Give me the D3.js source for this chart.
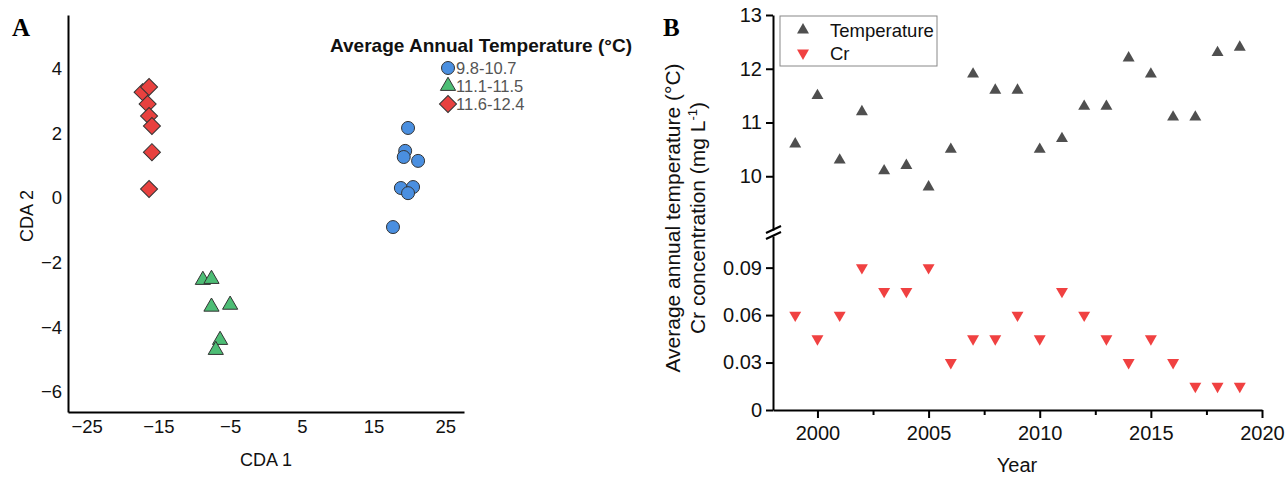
<!DOCTYPE html>
<html><head><meta charset="utf-8">
<script src="https://cdn.jsdelivr.net/npm/d3@7"></script>
<style>body{margin:0;background:#fff}svg{display:block}text{font-family:Arial,"Liberation Sans",sans-serif}</style>
</head><body><svg id="c" width="1286" height="478"></svg>
<script>
// ---- Panel A data (CDA scores) ----
const groupLabels = ["9.8-10.7", "11.1-11.5", "11.6-12.4"];
const blueX = [19.8, 19.4, 19.2, 21.2, 18.8, 20.5, 19.8, 17.7];
const blueY = [2.17, 1.46, 1.27, 1.15, 0.31, 0.34, 0.15, -0.9];
const greenX = [-8.8, -7.6, -7.6, -5.0, -6.4, -7.0];
const greenY = [-2.54, -2.51, -3.37, -3.31, -4.40, -4.71];
const redX = [-17.2, -16.3, -16.5, -16.3, -15.9, -15.9, -16.3];
const redY = [3.28, 3.44, 2.91, 2.54, 2.23, 1.42, 0.28];
const aXTicks = [-25, -15, -5, 5, 15, 25];
const aYTicks = [-6, -4, -2, 0, 2, 4];

// ---- Panel B data ----
const years = [1999,2000,2001,2002,2003,2004,2005,2006,2007,2008,2009,2010,2011,2012,2013,2014,2015,2016,2017,2018,2019];
const temperature = [10.6,11.5,10.3,11.2,10.1,10.2,9.8,10.5,11.9,11.6,11.6,10.5,10.7,11.3,11.3,12.2,11.9,11.1,11.1,12.3,12.4];
const cr = [0.06,0.045,0.06,0.09,0.075,0.075,0.09,0.03,0.045,0.045,0.06,0.045,0.075,0.06,0.045,0.03,0.045,0.03,0.015,0.015,0.015];
const bXTicks = [2000, 2005, 2010, 2015, 2020];
const bXMinor = [2002.5, 2007.5, 2012.5, 2017.5];
const tTicks = [10, 11, 12, 13];
const crTicks = [0, 0.03, 0.06, 0.09];

const FONT = 'Arial,"Liberation Sans",sans-serif';
const svg = d3.select("#c");

// ================= Panel A =================
const xA = d3.scaleLinear().domain([-27.6, 27.6]).range([68, 464]);
const yA = d3.scaleLinear().domain([-6.63, 5.67]).range([412, 15]);
const gA = svg.append("g");

const axA_y = gA.append("g").attr("transform", "translate(68,0)")
  .call(d3.axisLeft(yA).tickValues(aYTicks).tickSize(0).tickPadding(6).tickFormat(d3.format("d")));
const axA_x = gA.append("g").attr("transform", "translate(0,412)")
  .call(d3.axisBottom(xA).tickValues(aXTicks).tickSize(0).tickPadding(8).tickFormat(d3.format("d")));
[axA_y, axA_x].forEach(a => {
  a.select(".domain").attr("stroke", "#000").attr("stroke-width", 2);
  a.selectAll("text").attr("font-size", 18.5).attr("fill", "#111").attr("font-family", FONT);
});

gA.append("text").attr("transform", "translate(33,216) rotate(-90)").attr("text-anchor", "middle")
  .attr("font-size", 18).attr("fill", "#111").text("CDA 2");
gA.append("text").attr("x", 266).attr("y", 466).attr("text-anchor", "middle")
  .attr("font-size", 18).attr("fill", "#111").text("CDA 1");

const blue = "#4a8fe0", green = "#4dbd75", red = "#e8413f";
const triA = d3.symbol().type(d3.symbolTriangle).size(100)();
const sqA = d3.symbol().type(d3.symbolSquare).size(145)();

// red diamonds
gA.selectAll(".rd").data(redX.map((x, i) => [x, redY[i]])).join("path")
  .attr("d", sqA).attr("transform", d => `translate(${xA(d[0])},${yA(d[1])}) rotate(45)`)
  .attr("fill", red).attr("stroke", "#333").attr("stroke-width", 1);
// green triangles
gA.selectAll(".gt").data(greenX.map((x, i) => [x, greenY[i]])).join("path")
  .attr("d", triA).attr("transform", d => `translate(${xA(d[0])},${yA(d[1])})`)
  .attr("fill", green).attr("stroke", "#333").attr("stroke-width", 1);
// blue circles
gA.selectAll(".bc").data(blueX.map((x, i) => [x, blueY[i]])).join("circle")
  .attr("cx", d => xA(d[0])).attr("cy", d => yA(d[1])).attr("r", 6.5)
  .attr("fill", blue).attr("stroke", "#333").attr("stroke-width", 1);

// legend A
gA.append("text").attr("x", 330).attr("y", 52).attr("font-size", 19).attr("font-weight", "bold")
  .attr("fill", "#111").attr("textLength", 302).attr("lengthAdjust", "spacingAndGlyphs")
  .text("Average Annual Temperature (°C)");
const legA = gA.append("g");
legA.append("circle").attr("cx", 448).attr("cy", 68).attr("r", 6.5).attr("fill", blue).attr("stroke", "#333");
legA.append("path").attr("d", triA).attr("transform", "translate(448,86)").attr("fill", green).attr("stroke", "#333");
legA.append("path").attr("d", sqA).attr("transform", "translate(448,104) rotate(45)").attr("fill", red).attr("stroke", "#333");
groupLabels.forEach((t, i) => {
  legA.append("text").attr("x", 456).attr("y", [74, 92, 110][i]).attr("font-size", 16.5).attr("fill", "#555").text(t);
});

svg.append("text").attr("x", 12).attr("y", 36).attr("font-size", 25).attr("font-weight", "bold")
  .style("font-family", '"Liberation Serif","Times New Roman",serif').text("A");

// ================= Panel B =================
const xB = d3.scaleLinear().domain([1998, 2020]).range([773, 1262]);
const yT = d3.scaleLinear().domain([9, 13]).range([230, 15]);
const yC = d3.scaleLinear().domain([0, 0.11]).range([410, 236]);
const gB = svg.append("g");

const axT = gB.append("g").attr("transform", "translate(773,0)")
  .call(d3.axisLeft(yT).tickValues(tTicks).tickSizeInner(7).tickSizeOuter(0).tickPadding(4).tickFormat(d3.format("d")));
const axC = gB.append("g").attr("transform", "translate(773,0)")
  .call(d3.axisLeft(yC).tickValues(crTicks).tickSizeInner(7).tickSizeOuter(0).tickPadding(4).tickFormat(d => d === 0 ? "0" : d3.format(".2f")(d)));
const axX = gB.append("g").attr("transform", "translate(0,410)")
  .call(d3.axisBottom(xB).tickValues(bXTicks).tickSizeInner(8).tickSizeOuter(0).tickPadding(8).tickFormat(d3.format("d")));
const axXm = gB.append("g").attr("transform", "translate(0,410)")
  .call(d3.axisBottom(xB).tickValues(bXMinor).tickSizeInner(5).tickSizeOuter(0).tickFormat(""));
axXm.select(".domain").remove();
[axT, axC, axX, axXm].forEach(a => {
  a.select(".domain").attr("stroke", "#000").attr("stroke-width", 2);
  a.selectAll(".tick line").attr("stroke", "#000").attr("stroke-width", 2);
  a.selectAll("text").attr("font-size", 20).attr("fill", "#111").attr("font-family", FONT);
});

// axis break marks
[229.5, 235.5].forEach(y => {
  gB.append("line").attr("x1", 766).attr("y1", y + 3.5).attr("x2", 781).attr("y2", y - 3.5)
    .attr("stroke", "#000").attr("stroke-width", 2);
});

const triB = d3.symbol().type(d3.symbolTriangle).size(62)();
const tCol = "#4f4f4f", cCol = "#f04141";
gB.selectAll(".tp").data(years.map((y, i) => [y, temperature[i]])).join("path")
  .attr("d", triB).attr("transform", d => `translate(${xB(d[0])},${yT(d[1])})`).attr("fill", tCol);
gB.selectAll(".cp").data(years.map((y, i) => [y, cr[i]])).join("path")
  .attr("d", triB).attr("transform", d => `translate(${xB(d[0])},${yC(d[1])}) rotate(180)`).attr("fill", cCol);

// legend B
gB.append("rect").attr("x", 780).attr("y", 16).attr("width", 157).attr("height", 50)
  .attr("fill", "#fff").attr("stroke", "#888").attr("stroke-width", 1);
gB.append("path").attr("d", triB).attr("transform", "translate(803,30)").attr("fill", tCol);
gB.append("path").attr("d", triB).attr("transform", "translate(803,53) rotate(180)").attr("fill", cCol);
gB.append("text").attr("x", 830).attr("y", 36.5).attr("font-size", 18.5).attr("fill", "#111").text("Temperature");
gB.append("text").attr("x", 830).attr("y", 60).attr("font-size", 18.5).attr("fill", "#111").text("Cr");

// axis titles B
gB.append("text").attr("transform", "translate(680,218) rotate(-90)").attr("text-anchor", "middle")
  .attr("font-size", 21).attr("fill", "#111").text("Average annual temperature (°C)");
const crLab = gB.append("text").attr("transform", "translate(705,218) rotate(-90)").attr("text-anchor", "middle")
  .attr("font-size", 21).attr("fill", "#111");
crLab.append("tspan").text("Cr concentration (mg L");
crLab.append("tspan").attr("font-size", 13).attr("dy", -8).text("-1");
crLab.append("tspan").attr("dy", 8).text(")");
gB.append("text").attr("x", 1017).attr("y", 472).attr("text-anchor", "middle")
  .attr("font-size", 20).attr("fill", "#111").text("Year");

svg.append("text").attr("x", 663).attr("y", 36).attr("font-size", 25).attr("font-weight", "bold")
  .style("font-family", '"Liberation Serif","Times New Roman",serif').text("B");
</script></body></html>
